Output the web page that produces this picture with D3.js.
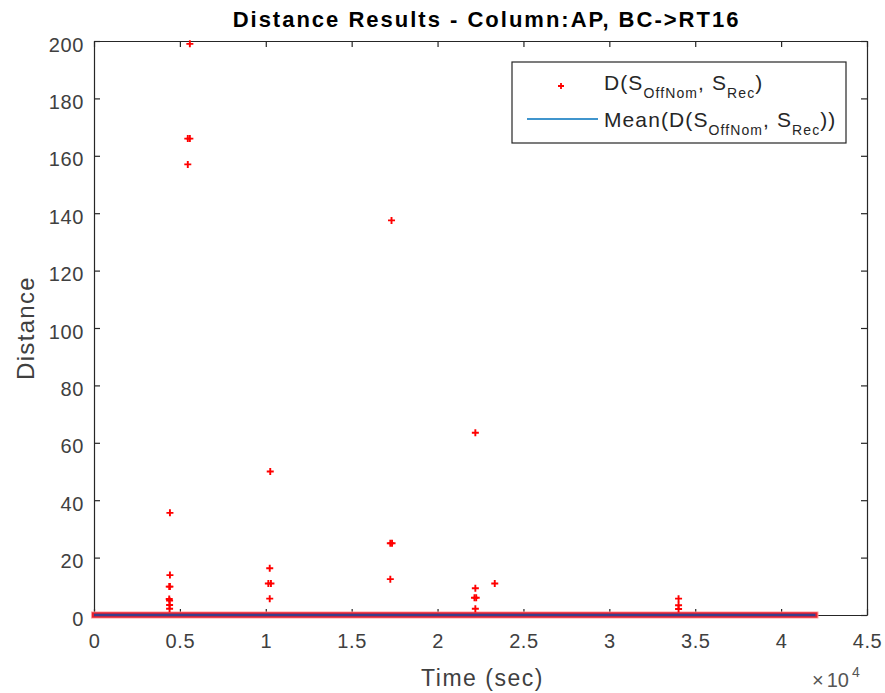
<!DOCTYPE html>
<html>
<head>
<meta charset="utf-8">
<script src="https://cdn.jsdelivr.net/npm/d3@7"></script>
<style>
  body { margin: 0; background: #fff; }
  text { font-family: "Liberation Sans", Arial, sans-serif; }
</style>
</head>
<body>
<svg id="chart"></svg>
<script>
// sample times (sec) and distances (non-zero samples)
var sampleTimes = [4420, 4420, 4380, 4420, 4380, 4400, 4400, 4400,
                   5580, 5460, 5580, 5460,
                   10260, 10230, 10150, 10300, 10230,
                   17320, 17250, 17350, 17250,
                   22200, 22200, 22150, 22250, 22200, 23330,
                   34030, 34030, 34030];
var sampleDistances = [35.6, 13.9, 9.9, 9.9, 5.6, 5.0, 3.5, 2.2,
                       199, 166, 166, 157,
                       50, 16.3, 11, 11, 5.7,
                       137.5, 25, 25, 12.5,
                       63.5, 9.3, 6, 6, 2.2, 11,
                       5.7, 3.4, 2.1];
// span of the many zero-distance samples, and the mean line
var zeroSpan = [0, 42000];
var meanSpan = [0, 42000];
var meanDistance = 0;

var xTicks = [0, 5000, 10000, 15000, 20000, 25000, 30000, 35000, 40000, 45000];
var xTickLabels = ["0", "0.5", "1", "1.5", "2", "2.5", "3", "3.5", "4", "4.5"];
var yTicks = [0, 20, 40, 60, 80, 100, 120, 140, 160, 180, 200];

var width = 885, height = 693;
var margin = {top: 41, right: 18, bottom: 78, left: 94};
var innerW = width - margin.left - margin.right;
var innerH = height - margin.top - margin.bottom;
var axisColor = "#262626";

var svg = d3.select("#chart")
    .attr("width", width)
    .attr("height", height);

var x = d3.scaleLinear().domain([0, 45000]).range([0, innerW]);
var y = d3.scaleLinear().domain([0, 200]).range([innerH, 0]);

var g = svg.append("g")
    .attr("transform", "translate(" + margin.left + "," + margin.top + ")");

// axes, ticks pointing inwards
var xAxis = g.append("g")
    .attr("transform", "translate(0," + innerH + ")")
    .call(d3.axisBottom(x).tickValues(xTicks)
      .tickFormat((d, i) => xTickLabels[i]).tickSizeInner(-6).tickSizeOuter(0).tickPadding(19));
var xTop = g.append("g")
    .call(d3.axisTop(x).tickValues(xTicks).tickFormat("").tickSizeInner(-6).tickSizeOuter(0));
var yAxis = g.append("g")
    .call(d3.axisLeft(y).tickValues(yTicks).tickSizeInner(-6).tickSizeOuter(0).tickPadding(10));
var yRight = g.append("g")
    .attr("transform", "translate(" + innerW + ",0)")
    .call(d3.axisRight(y).tickValues(yTicks).tickFormat("").tickSizeInner(-6).tickSizeOuter(0));

[xAxis, xTop, yAxis, yRight].forEach(a => {
  a.selectAll("path").attr("stroke", axisColor).attr("stroke-width", 1.2);
  a.selectAll("line").attr("stroke", axisColor).attr("stroke-width", 1.2);
  a.selectAll("text").attr("fill", "#404040").style("font-size", "20px")
    .style("letter-spacing", "0.6px")
    .style("font-family", "Liberation Sans, Arial, sans-serif");
});
yAxis.selectAll("text").attr("dy", "0.5em");

// zero-distance samples: densely packed markers form a band on the axis
g.append("rect")
    .attr("x", x(zeroSpan[0]) - 3)
    .attr("y", y(0) - 3.5)
    .attr("width", x(zeroSpan[1]) - x(zeroSpan[0]) + 6)
    .attr("height", 7)
    .attr("fill", "#ff9a9a");
g.append("rect")
    .attr("x", x(zeroSpan[0]) - 2)
    .attr("y", y(0) - 2.7)
    .attr("width", x(zeroSpan[1]) - x(zeroSpan[0]) + 4)
    .attr("height", 5.4)
    .attr("fill", "#e8202e");

// non-zero samples as plus markers
var points = sampleTimes.map((t, i) => ({t: t, d: sampleDistances[i]}));
g.selectAll(".pt")
    .data(points)
  .enter()
  .append("path")
    .classed("pt", true)
    .attr("d", d => {
      var px = x(d.t), py = y(d.d), s = 3.5;
      return "M" + (px - s) + "," + py + "H" + (px + s) +
             "M" + px + "," + (py - s) + "V" + (py + s);
    })
    .attr("stroke", "#ff0000")
    .attr("stroke-width", 1.9)
    .attr("fill", "none");

// mean line
g.append("line")
    .attr("x1", x(meanSpan[0]))
    .attr("x2", x(meanSpan[1]))
    .attr("y1", y(meanDistance))
    .attr("y2", y(meanDistance))
    .attr("stroke", "#3a3f8c")
    .attr("stroke-width", 2.5);

// title and labels
svg.append("text")
    .attr("x", margin.left + innerW / 2 + 6)
    .attr("y", 27)
    .attr("text-anchor", "middle")
    .attr("font-weight", "bold")
    .attr("font-size", "22px")
    .attr("letter-spacing", "2px")
    .attr("fill", "#000")
    .text("Distance Results - Column:AP, BC->RT16");

svg.append("text")
    .attr("x", margin.left + innerW / 2 + 2)
    .attr("y", 686)
    .attr("text-anchor", "middle")
    .attr("font-size", "23px")
    .attr("letter-spacing", "1.5px")
    .attr("fill", "#404040")
    .text("Time (sec)");

svg.append("text")
    .attr("transform", "translate(34," + (margin.top + innerH / 2) + ") rotate(-90)")
    .attr("text-anchor", "middle")
    .attr("font-size", "24px")
    .attr("letter-spacing", "1.3px")
    .attr("fill", "#404040")
    .text("Distance");

var expo = svg.append("text")
    .attr("x", 812)
    .attr("y", 687)
    .attr("font-size", "20px")
    .attr("fill", "#555");
expo.append("tspan").text("\u00d7");
expo.append("tspan").attr("dx", 3).text("10");
expo.append("tspan").attr("font-size", "14px").attr("dy", -10).attr("dx", 3).text("4");

// legend
var legend = svg.append("g");
legend.append("rect")
    .attr("x", 512).attr("y", 62)
    .attr("width", 334).attr("height", 81)
    .attr("fill", "#fff")
    .attr("stroke", axisColor)
    .attr("stroke-width", 1.2);

legend.append("path")
    .attr("d", "M558,86H564M561,83V89")
    .attr("stroke", "#ff0000")
    .attr("stroke-width", 1.8);
legend.append("line")
    .attr("x1", 527).attr("x2", 598)
    .attr("y1", 119).attr("y2", 119)
    .attr("stroke", "#0072BD")
    .attr("stroke-width", 1.5);

function legendLabel(yPos, prefix, suffix) {
  var t = legend.append("text")
      .attr("x", 604)
      .attr("y", yPos)
      .attr("font-size", "21px")
      .attr("letter-spacing", "1.1px")
      .attr("fill", "#262626");
  t.append("tspan").text(prefix + "S");
  t.append("tspan").attr("font-size", "14px").attr("dy", 8).text("OffNom");
  t.append("tspan").attr("dy", -8).text(", S");
  t.append("tspan").attr("font-size", "14px").attr("dy", 8).text("Rec");
  t.append("tspan").attr("dy", -8).text(suffix);
}
legendLabel(90, "D(", ")");
legendLabel(127, "Mean(D(", "))");
</script>
</body>
</html>
